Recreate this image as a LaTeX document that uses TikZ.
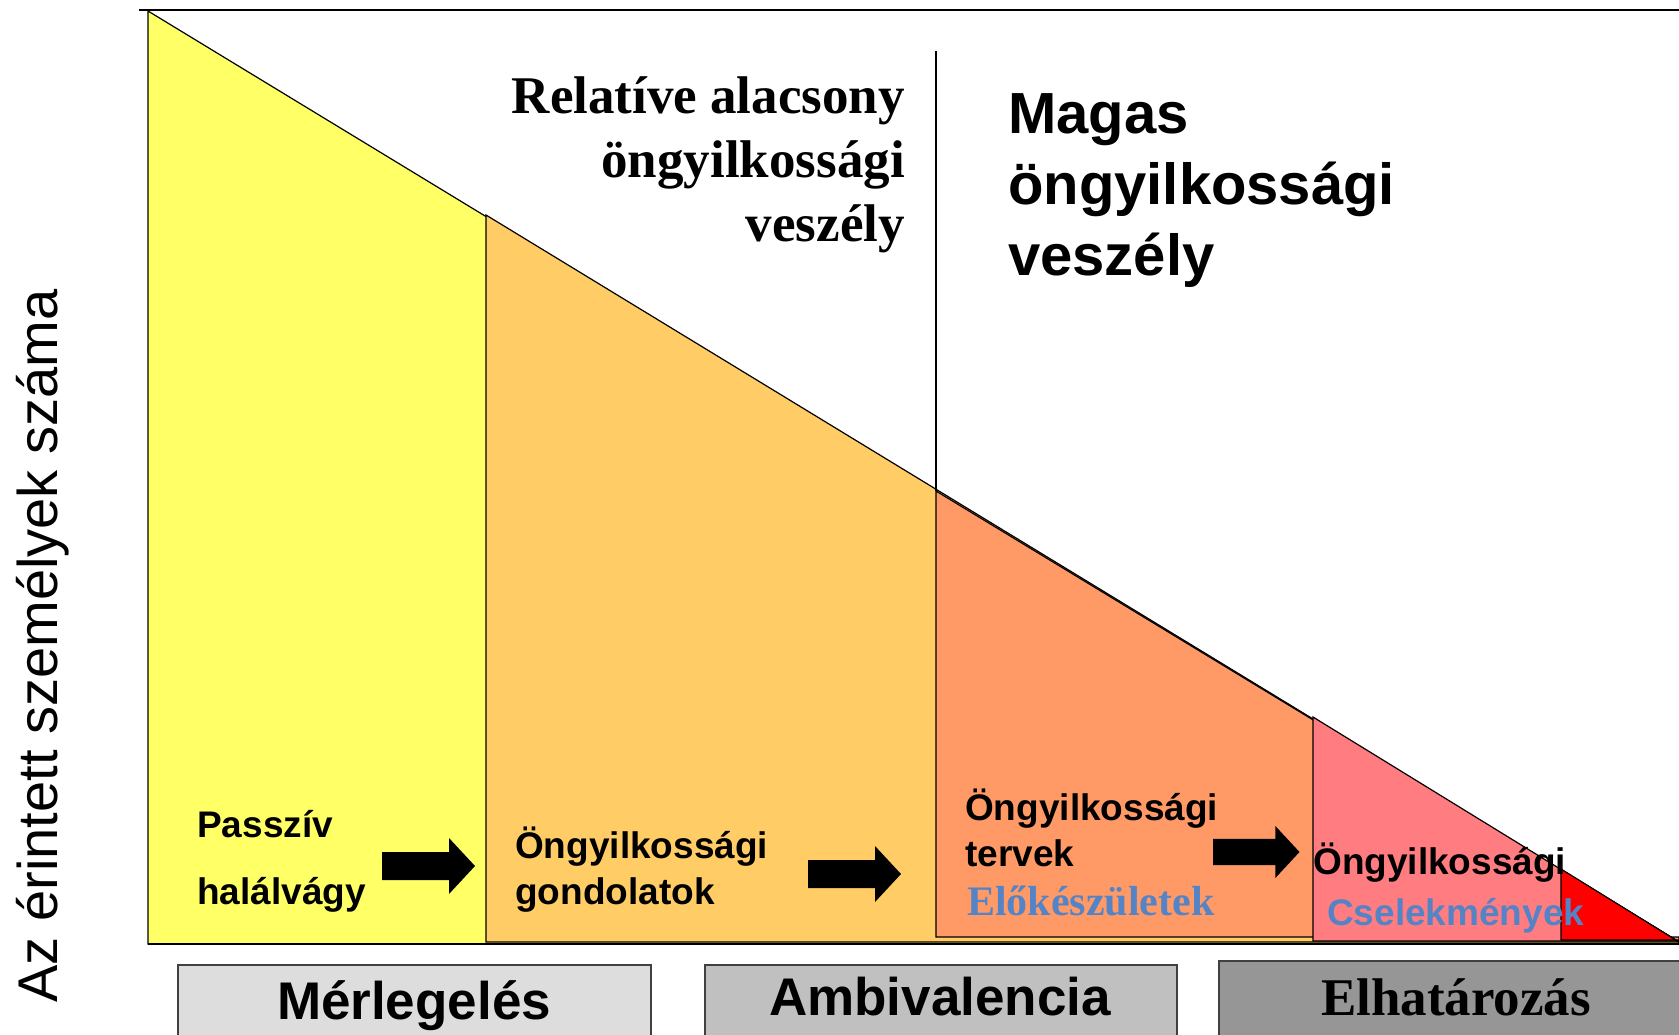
\documentclass[tikz,border=0pt]{standalone}
\usepackage{fontspec}
\setmainfont{Liberation Serif}
\setsansfont{Liberation Sans}
\definecolor{passzivfill}{HTML}{FFFF66}
\definecolor{gondolatfill}{HTML}{FFCC66}
\definecolor{tervfill}{HTML}{FF9966}
\definecolor{cselekfill}{HTML}{FF7C80}
\definecolor{vegfill}{HTML}{FF0000}
\definecolor{kekszoveg}{RGB}{84,132,198}
\definecolor{merlegfill}{HTML}{DDDDDD}
\definecolor{ambifill}{HTML}{C0C0C0}
\definecolor{elhatfill}{HTML}{969696}
\tikzset{
  stage/.style={draw=black, line width=1.2pt},
  phasebox/.style={draw=black!75, line width=1.6pt},
  sanslbl/.style={font=\sffamily\bfseries\fontsize{37}{44}\selectfont,
    anchor=base west, inner sep=0pt},
  bluelbl/.style={text=kekszoveg, anchor=base west, inner sep=0pt},
  phaselbl/.style={anchor=base, inner sep=0pt},
  blockarrow/.pic={\fill[black] (0,-14) -- (67,-14) -- (67,-28) -- (93,0)
    -- (67,28) -- (67,14) -- (0,14) -- cycle;}
}

\begin{document}
\begin{tikzpicture}[x=1pt, y=-1pt]
  \useasboundingbox (0,0) rectangle (1679,1034);
  \clip (0,0) rectangle (1679,1034);
  % stages, each one runs to the right corner
  \foreach \x/\y/\b/\c in {148/11/944/passzivfill, 486/215/942/gondolatfill,
      936/491/937/tervfill, 1313/717/941/cselekfill, 1561/869/940/vegfill}
    \filldraw[stage, fill=\c] (\x,\y) -- (1679,942) -- (1679,\b) -- (\x,\b) -- cycle;
  \draw[line width=1.2pt] (139,10) -- (1679,10);
  \draw[line width=1.2pt] (936,51) -- (936,491);
  \draw[line width=2.6pt] (148,944) -- (1679,944);

  % risk headings
  \foreach \t [count=\i] in {Relatíve alacsony, öngyilkossági, veszély}
    \node[font=\rmfamily\bfseries\fontsize{53}{64}\selectfont, anchor=base east,
      inner sep=0pt] (rel\i) at (905,{113+64*(\i-1)}) {\t};
  \foreach \t [count=\i] in {Magas, öngyilkossági, veszély}
    \node[font=\sffamily\bfseries\fontsize{58}{71}\selectfont, anchor=base west,
      inner sep=0pt] (magas\i) at (1008,{133+71*(\i-1)}) {\t};

  % stage labels
  \node[sanslbl] (passziv) at (197,837) {Passzív};
  \node[sanslbl] (halal) at (197,904) {halálvágy};
  \node[sanslbl] (gond1) at (515,858) {Öngyilkossági};
  \node[sanslbl] (gond2) at (515,904) {gondolatok};
  \node[sanslbl] (terv1) at (965,820) {Öngyilkossági};
  \node[sanslbl] (terv2) at (965,866) {tervek};
  \node[bluelbl, font=\rmfamily\bfseries\fontsize{42}{48}\selectfont]
    (elokesz) at (967,915) {Előkészületek};
  \node[sanslbl] (csel1) at (1313,874) {Öngyilkossági};
  \node[sanslbl, text=kekszoveg] (csel2) at (1327,925) {Cselekmények};

  \pic (nyil1) at (382,866) {blockarrow};
  \pic (nyil2) at (808,874) {blockarrow};
  \pic[scale=0.93] (nyil3) at (1213,852) {blockarrow};

  % phases
  \filldraw[phasebox, fill=merlegfill] (178,965) rectangle (651,1045);
  \filldraw[phasebox, fill=ambifill] (705,965) rectangle (1177,1045);
  \filldraw[phasebox, fill=elhatfill] (1219,961) rectangle (1690,1045);
  \node[phaselbl, font=\sffamily\bfseries\fontsize{53}{60}\selectfont]
    (merleg) at (414,1019) {Mérlegelés};
  \node[phaselbl, font=\sffamily\bfseries\fontsize{53}{60}\selectfont]
    (ambi) at (940,1015) {Ambivalencia};
  \node[phaselbl, font=\rmfamily\bfseries\fontsize{53}{60}\selectfont]
    (elhat) at (1456,1015) {Elhatározás};

  \node[font=\sffamily\fontsize{56}{64}\selectfont, rotate=90, anchor=base,
    inner sep=0pt] (tengely) at (57,646) {Az érintett személyek száma};
\end{tikzpicture}
\end{document}
